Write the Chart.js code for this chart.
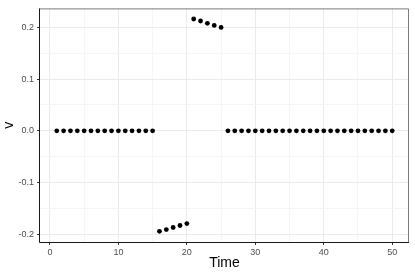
<!DOCTYPE html>
<html>
<head>
<meta charset="utf-8">
<script src="https://cdn.jsdelivr.net/npm/chart.js@4"></script>
<style>
  html, body { margin: 0; padding: 0; background: #ffffff; }
  #wrap { width: 415px; height: 277px; }
</style>
</head>
<body>
<div id="wrap"><canvas id="c" width="415" height="277"></canvas></div>
<script>
// ---- data ----
const time = [];
for (let t = 1; t <= 50; t++) time.push(t);
const vValues = [
  0, 0, 0, 0, 0, 0, 0, 0, 0, 0, 0, 0, 0, 0, 0,
  -0.1947, -0.1912, -0.1872, -0.1834, -0.1797,
  0.2164, 0.2125, 0.2080, 0.2040, 0.2000,
  0, 0, 0, 0, 0, 0, 0, 0, 0, 0, 0, 0, 0, 0, 0, 0, 0, 0, 0, 0, 0, 0, 0, 0, 0
];
const xTicks = [0, 5, 10, 15, 20, 25, 30, 35, 40, 45, 50];
const xMajor = [0, 10, 20, 30, 40, 50];
const yTicks = [-0.2, -0.15, -0.1, -0.05, 0, 0.05, 0.1, 0.15, 0.2];
const yMajor = [-0.2, -0.1, 0, 0.1, 0.2];
const xTitle = 'Time';
const yTitle = 'v';

const points = time.map((t, i) => ({ x: t, y: vValues[i] }));

const isMajor = (arr, v) => arr.some(m => Math.abs(m - v) < 1e-9);

const FONT = "'Liberation Sans', Arial, Helvetica, sans-serif";

const panelBorder = {
  id: 'panelBorder',
  afterDraw(chart) {
    const { ctx, chartArea: a } = chart;
    ctx.save();
    ctx.lineWidth = 1;
    ctx.strokeStyle = '#7a7a7a';
    ctx.beginPath();
    ctx.moveTo(a.left, a.top + 0.5);
    ctx.lineTo(a.right - 0.5, a.top + 0.5);
    ctx.lineTo(a.right - 0.5, a.bottom);
    ctx.stroke();
    ctx.strokeStyle = '#1a1a1a';
    ctx.beginPath();
    ctx.moveTo(a.left - 0.5, a.top);
    ctx.lineTo(a.left - 0.5, a.bottom + 0.5);
    ctx.lineTo(a.right, a.bottom + 0.5);
    ctx.stroke();
    ctx.restore();
  }
};

new Chart(document.getElementById('c'), {
  type: 'scatter',
  data: {
    datasets: [{
      data: points,
      backgroundColor: '#000000',
      borderWidth: 0,
      pointRadius: 2.4,
      pointHoverRadius: 2.4
    }]
  },
  options: {
    responsive: false,
    animation: false,
    events: [],
    layout: { padding: { left: 0, right: 6, top: 5, bottom: 0 } },
    plugins: { legend: { display: false }, tooltip: { enabled: false } },
    scales: {
      x: {
        type: 'linear',
        min: -1.45,
        max: 52.45,
        afterBuildTicks(axis) { axis.ticks = xTicks.map(v => ({ value: v })); },
        afterFit(axis) { axis.height = 35; },
        border: { display: false },
        grid: {
          color: ctx => isMajor(xMajor, ctx.tick.value) ? '#ebebeb' : '#f5f5f5',
          lineWidth: 1,
          tickColor: ctx => isMajor(xMajor, ctx.tick.value) ? '#333333' : 'rgba(0,0,0,0)',
          tickLength: 3,
          drawTicks: true
        },
        ticks: {
          autoSkip: false,
          maxRotation: 0,
          padding: 2,
          color: '#4d4d4d',
          font: { family: FONT, size: 9 },
          callback: v => isMajor(xMajor, v) ? String(Math.round(v)) : ''
        },
        title: {
          display: true,
          text: xTitle,
          color: '#000000',
          font: { family: FONT, size: 14 },
          padding: { top: 0, bottom: 5 }
        }
      },
      y: {
        type: 'linear',
        min: -0.2153,
        max: 0.2369,
        afterBuildTicks(axis) { axis.ticks = yTicks.map(v => ({ value: v })); },
        afterFit(axis) { axis.width = 40; },
        border: { display: false },
        grid: {
          color: ctx => isMajor(yMajor, ctx.tick.value) ? '#ebebeb' : '#f5f5f5',
          lineWidth: 1,
          tickColor: ctx => isMajor(yMajor, ctx.tick.value) ? '#333333' : 'rgba(0,0,0,0)',
          tickLength: 3,
          drawTicks: true
        },
        ticks: {
          autoSkip: false,
          padding: 3,
          color: '#4d4d4d',
          font: { family: FONT, size: 9 },
          callback: v => isMajor(yMajor, v) ? v.toFixed(1) : ''
        },
        title: {
          display: true,
          text: yTitle,
          color: '#000000',
          font: { family: FONT, size: 14 },
          padding: { top: 0.6, bottom: 0 }
        }
      }
    }
  },
  plugins: [panelBorder]
});
</script>
</body>
</html>
